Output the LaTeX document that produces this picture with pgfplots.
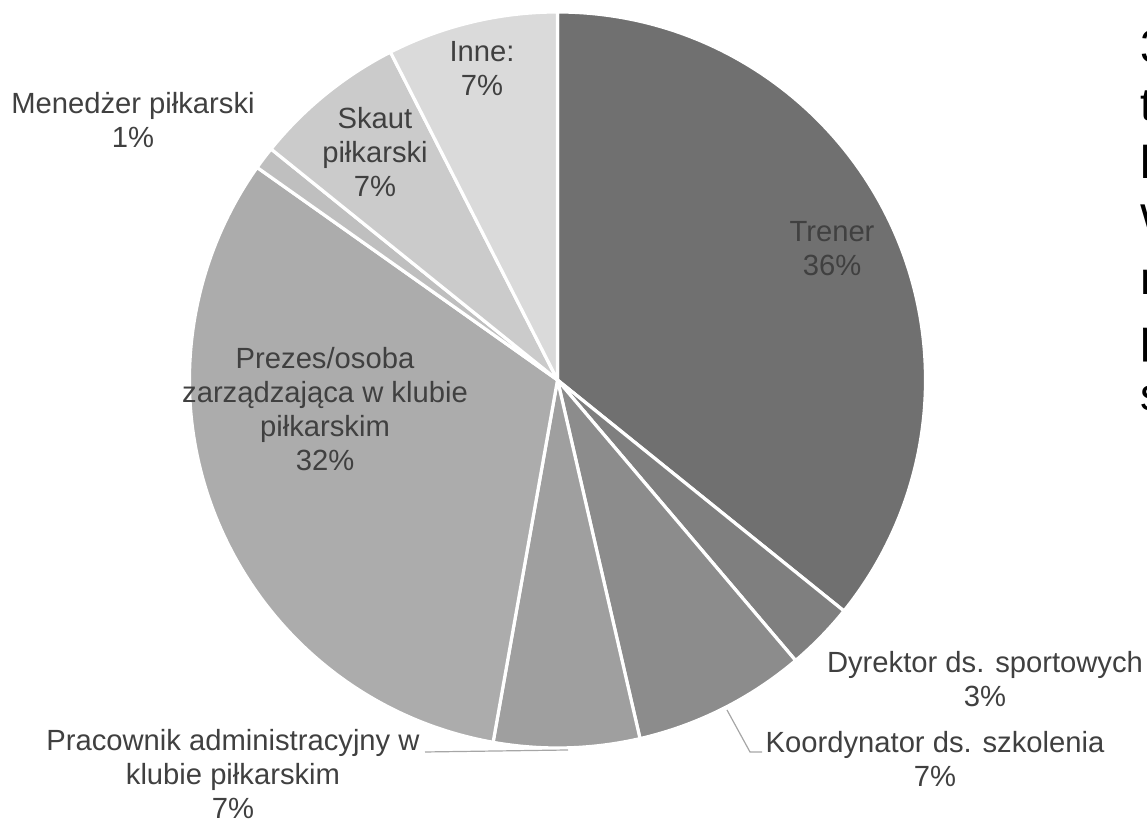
\documentclass[border=0pt]{standalone}
\usepackage{fontspec}
\setmainfont{Liberation Sans}
\usepackage{pgfplots}
\usepackage{pgfplotstable}
\pgfplotsset{compat=1.18}

\definecolor{pie0}{HTML}{707070}
\definecolor{pie1}{HTML}{7F7F7F}
\definecolor{pie2}{HTML}{8C8C8C}
\definecolor{pie3}{HTML}{9F9F9F}
\definecolor{pie4}{HTML}{ACACAC}
\definecolor{pie5}{HTML}{BFBFBF}
\definecolor{pie6}{HTML}{CBCBCB}
\definecolor{pie7}{HTML}{DADADA}
\definecolor{lbl}{HTML}{404040}
\definecolor{lead}{HTML}{A6A6A6}

% shares in percent, clockwise from 12 o'clock
\pgfplotstableread{
val
35.8
3.0
7.6
6.4
32.0
1.0
6.7
7.5
}\piedata

% cumulative start/end angles of the slices
\def\pieacc{90}%
\pgfplotsforeachungrouped \i in {0,...,7}{%
  \pgfplotstablegetelem{\i}{val}\of\piedata
  \pgfmathsetmacro\pieend{\pieacc-3.6*\pgfplotsretval}%
  \expandafter\xdef\csname pieS\i\endcsname{\pieacc}%
  \expandafter\xdef\csname pieE\i\endcsname{\pieend}%
  \xdef\pieacc{\pieend}%
}

\tikzset{lab/.style={align=center, text=lbl, inner sep=0pt,
    font=\fontsize{14.6}{17}\selectfont},
  big/.style={anchor=base west, inner sep=0pt, font=\fontsize{23}{29}\selectfont}}

\begin{document}
\begin{tikzpicture}
\begin{axis}[
    x=0.5pt, y=0.5pt,
    xmin=0, xmax=1147, ymin=0, ymax=822,
    hide axis, clip=true,
    at={(0,0)}, anchor=south west,
]
\pgfplotsinvokeforeach{0,...,7}{%
  \edef\temp{\noexpand\fill[pie#1, draw=white, line width=1.6pt, line join=round]
    (axis cs:557.5,442) -- ++(\csname pieS#1\endcsname:184pt)
    arc[start angle=\csname pieS#1\endcsname, end angle=\csname pieE#1\endcsname, radius=184pt]
    -- cycle;}%
  \temp
}

% leader lines
\draw[lead, line width=0.6pt] (axis cs:727,112) -- (axis cs:750,70) -- (axis cs:762,70);
\draw[lead, line width=0.6pt] (axis cs:425,70) -- (axis cs:568,72);

% slice labels
\node[lab] at (axis cs:832,573) {Trener\\36\%};
\node[lab] at (axis cs:985,143) {Dyrektor ds. sportowych\\3\%};
\node[lab] at (axis cs:935,63) {Koordynator ds. szkolenia\\7\%};
\node[lab] at (axis cs:233,48) {Pracownik administracyjny w\\klubie piłkarskim\\7\%};
\node[lab] at (axis cs:325,413) {Prezes/osoba\\zarządzająca w klubie\\piłkarskim\\32\%};
\node[lab] at (axis cs:133,702) {Menedżer piłkarski\\1\%};
\node[lab] at (axis cs:375,670) {Skaut\\piłkarski\\7\%};
\node[lab] at (axis cs:482,753) {Inne:\\7\%};

% text box cut off at the right edge
\node[big] at (axis cs:1140,759) {3};
\node[big] at (axis cs:1140,701) {t};
\node[big] at (axis cs:1140,643) {l};
\node[big] at (axis cs:1140,585) {W};
\node[big] at (axis cs:1140,527) {n};
\node[big] at (axis cs:1140,469) {p};
\node[big] at (axis cs:1140,411) {s};
\end{axis}
\pgfresetboundingbox
\useasboundingbox (0,0) rectangle (573.5pt,411pt);
\end{tikzpicture}
\end{document}
